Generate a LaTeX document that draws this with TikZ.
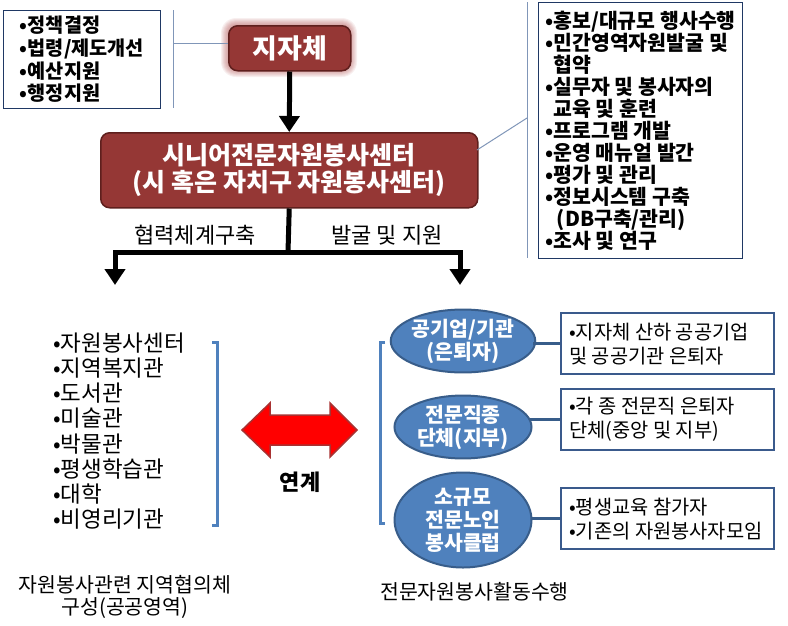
\documentclass[tikz,border=0pt]{standalone}
\usepackage{fontspec}
\setmainfont{Noto Sans CJK KR}
\usetikzlibrary{arrows.meta,shapes.geometric}
\definecolor{dred}{HTML}{953735}
\definecolor{dredb}{HTML}{5E1F1D}
\definecolor{glowc}{HTML}{B05050}
\definecolor{eblue}{HTML}{4F81BD}
\definecolor{eblueb}{HTML}{385D8A}
\definecolor{navy}{HTML}{1F3864}
\definecolor{gline}{HTML}{8096B8}
\definecolor{boxb}{HTML}{3A5A8C}
\definecolor{arrred}{HTML}{FF0000}
\definecolor{arrredb}{HTML}{A83232}
\begin{document}
\begin{tikzpicture}[x=1pt,y=-1pt,
  redbox/.style={draw=dredb, line width=1.5pt, fill=dred, rounded corners=9pt, text=white,
    font=\bfseries\fontsize{25}{27}\selectfont, align=center, inner sep=0pt},
  listbox/.style={draw=navy, line width=1pt, align=left, inner sep=0pt,
    font=\bfseries\fontsize{19.7}{22.7}\selectfont},
  thinline/.style={draw=gline, line width=1pt},
  bigarrow/.style={line width=5pt, -{Triangle[width=20pt,length=16pt]}},
  bigline/.style={line width=5pt},
  plain/.style={font=\fontsize{22}{24}\selectfont, inner sep=0pt},
  ell/.style={ellipse, draw=eblueb, line width=2pt, fill=eblue, text=white, align=center,
    inner sep=0pt, minimum width=137pt, font=\bfseries\fontsize{20.5}{23}\selectfont},
  rbox/.style={draw=boxb, line width=2.2pt, minimum width=213pt, minimum height=61pt, anchor=north west},
  rtext/.style={anchor=west, align=left, inner sep=0pt, font=\fontsize{19.8}{24}\selectfont},
  bracket/.style={draw=eblue, line width=3pt},
  elink/.style={draw=eblueb, line width=2.5pt}
]
\useasboundingbox (0,0) rectangle (788,625);

% ---- top left list
\node[listbox, minimum width=157pt, minimum height=98pt, anchor=north west] (tlbox) at (3,10)
  {•정책결정\\•법령/제도개선\\•예산지원\\•행정지원};
\coordinate (tlv1) at (173,10);
\coordinate (tlv2) at (173,108);
\coordinate (tlh) at (173,43);
\draw[thinline] (tlv1) -- (tlv2);

% ---- 지자체 with glow
\foreach \i in {1,...,7}{
  \fill[glowc, opacity=0.09, rounded corners={8+\i}] ({228-\i},{25-\i}) rectangle ({350+\i},{70+\i});
}
\node[redbox, minimum width=122pt, minimum height=45pt, anchor=north west,
      font=\bfseries\fontsize{27}{27}\selectfont] (jj) at (228,25) {지자체};
\draw[thinline] (tlh) -- (tlh -| jj.west);

% ---- center box
\node[redbox, minimum width=377pt, minimum height=75pt, anchor=north west] (cb) at (100,132)
  {시니어전문자원봉사센터\\(시 혹은 자치구 자원봉사센터)};
\draw[bigarrow] (jj.south) -- (cb.north);

% ---- right top list
\node[listbox, minimum width=204pt, minimum height=256pt, anchor=north west,
      font=\bfseries\fontsize{20.5}{22}\selectfont] (rtbox) at (538,2)
  {•홍보/대규모 행사수행\\•민간영역자원발굴 및\\\hphantom{•}협약\\•실무자 및 봉사자의\\\hphantom{•}교육 및 훈련\\•프로그램 개발\\•운영 매뉴얼 발간\\•평가 및 관리\\•정보시스템 구축\\\hphantom{•}\,(DB구축/관리)\\•조사 및 연구};
\coordinate (rv1) at (527,2);
\coordinate (rv2) at (527,258);
\coordinate (rvm) at (527,118);
\coordinate (cbr) at (477,150);
\draw[thinline] (rv1) -- (rv2);
\draw[thinline] (cbr) -- (rvm);

% ---- branching arrows
\coordinate (bj) at (288,252);
\coordinate (ltip) at (115,285);
\coordinate (rtip) at (460,285);
\draw[bigline] (cb.south) -- (bj);
\draw[bigarrow] (bj) -| (ltip);
\draw[bigarrow] (bj) -| (rtip);
\node[plain] (lab1) at (195,235) {협력체계구축};
\node[plain] (lab2) at (387,235) {발굴 및 지원};

% ---- left list
\node[plain, anchor=west, align=left, font=\fontsize{22.5}{25.2}\selectfont] (llist) at (53,431)
  {•자원봉사센터\\•지역복지관\\•도서관\\•미술관\\•박물관\\•평생학습관\\•대학\\•비영리기관};
\draw[bracket] (212,342) -- (217,342) -- (217,525) -- (212,525);

% ---- red double arrow
\draw[fill=arrred, draw=arrredb, line width=1.5pt, line join=miter]
  (242,430) -- (270,403) -- (270,415) -- (330,415) -- (330,403) -- (357,430)
  -- (330,457) -- (330,445) -- (270,445) -- (270,457) -- cycle;
\node[font=\bfseries\fontsize{22}{24}\selectfont, inner sep=0pt] (link) at (300,482) {연계};

% ---- bottom left text
\node[plain, align=center, font=\fontsize{20.5}{22}\selectfont] (blt) at (125,597)
  {자원봉사관련 지역협의체\\구성(공공영역)};

% ---- right bracket and ellipses
\draw[bracket] (385,342) -- (380,342) -- (380,523) -- (385,523);
\node[ell, minimum height=57pt] (e1) at (463,341) {공기업/기관\\(은퇴자)};
\node[ell, minimum height=60pt] (e2) at (463,427) {전문직종\\단체(지부)};
\node[ell, minimum height=95pt] (e3) at (463,520) {소규모\\전문노인\\봉사클럽};

% ---- right boxes
\node[rbox] (b1) at (560,312) {};
\node[rbox] (b2) at (560,388) {};
\node[rbox] (b3) at (560,487) {};
\node[rtext] (b1t) at ([xshift=9pt]b1.west) {•지자체 산하 공공기업\\및 공공기관 은퇴자};
\node[rtext] (b2t) at ([xshift=9pt]b2.west) {•각 종 전문직 은퇴자\\단체(중앙 및 지부)};
\node[rtext] (b3t) at ([xshift=9pt]b3.west) {•평생교육 참가자\\•기존의 자원봉사자모임};
\draw[elink] ([xshift=-3pt]e1.east |- b1.west) -- (b1.west);
\draw[elink] ([xshift=-4pt]e2.east |- b2.west) -- (b2.west);
\draw[elink] ([xshift=-2pt]e3.east |- b3.west) -- (b3.west);

% ---- bottom right text
\node[plain, anchor=west, font=\fontsize{20.5}{22}\selectfont] (brt) at (380,592) {전문자원봉사활동수행};
\end{tikzpicture}
\end{document}
